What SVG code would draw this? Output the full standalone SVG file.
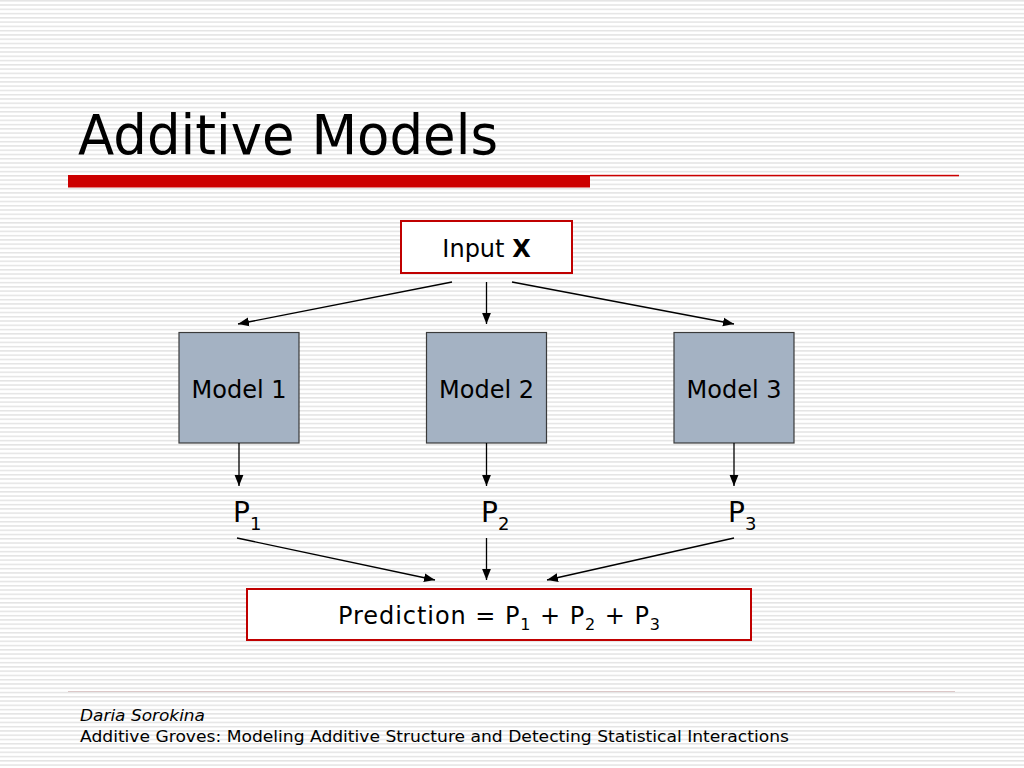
<svg xmlns="http://www.w3.org/2000/svg" width="1024" height="768" viewBox="0 0 1024 768">
<defs>
<pattern id="stripes" x="0" y="0" width="8" height="4.27" patternUnits="userSpaceOnUse">
<rect x="0" y="0" width="8" height="1.5" fill="#e4e4e4"/>
</pattern>
<marker id="arr" viewBox="0 0 10 10" refX="10" refY="5" markerWidth="11" markerHeight="11" markerUnits="userSpaceOnUse" orient="auto">
<path d="M0,1 L10,5 L0,9 Z" fill="#000"/>
</marker>
</defs>
<style>
.t{font-family:"DejaVu Sans","Liberation Sans",sans-serif;fill:#000}
.model{fill:#a4b2c3;stroke:#3a3a3a;stroke-width:1.2}
.redbox{fill:#fff;stroke:#c00000;stroke-width:2}
.conn line{stroke:#000;stroke-width:1.3;marker-end:url(#arr)}
</style>
<rect width="1024" height="768" fill="#fff"/>
<rect width="1024" height="768" fill="url(#stripes)"/>

<g id="title">
<text class="t" x="78" y="154" font-size="56" textLength="420" lengthAdjust="spacingAndGlyphs">Additive Models</text>
<rect x="68" y="175" width="522" height="12.5" fill="#cc0000"/>
<rect x="590" y="174.8" width="369" height="1.5" fill="#cc0000"/>
</g>

<g id="input">
<rect class="redbox" x="401" y="221" width="171" height="52"/>
<text class="t" x="486.5" y="257" font-size="24" text-anchor="middle">Input <tspan font-weight="bold">X</tspan></text>
</g>

<g id="model1">
<rect class="model" x="179" y="332.5" width="120" height="110.5"/>
<text class="t" x="239" y="398" font-size="24" text-anchor="middle">Model 1</text>
</g>
<g id="model2">
<rect class="model" x="426.5" y="332.5" width="120" height="110.5"/>
<text class="t" x="486.5" y="398" font-size="24" text-anchor="middle">Model 2</text>
</g>
<g id="model3">
<rect class="model" x="674" y="332.5" width="120" height="110.5"/>
<text class="t" x="734" y="398" font-size="24" text-anchor="middle">Model 3</text>
</g>

<g id="p1">
<text class="t" x="233" y="522" font-size="28">P<tspan font-size="18" dy="8">1</tspan></text>
</g>
<g id="p2">
<text class="t" x="481" y="522" font-size="28">P<tspan font-size="18" dy="8">2</tspan></text>
</g>
<g id="p3">
<text class="t" x="728" y="522" font-size="28">P<tspan font-size="18" dy="8">3</tspan></text>
</g>

<g id="prediction">
<rect class="redbox" x="247" y="589" width="504" height="51"/>
<text class="t" x="338" y="624" font-size="24" textLength="322" lengthAdjust="spacing">Prediction = P<tspan font-size="16" dy="6">1</tspan><tspan dy="-6"> + P</tspan><tspan font-size="16" dy="6">2</tspan><tspan dy="-6"> + P</tspan><tspan font-size="16" dy="6">3</tspan></text>
</g>

<g id="connectors" class="conn">
<line x1="452" y1="282" x2="238" y2="324"/>
<line x1="486.5" y1="282" x2="486.5" y2="324"/>
<line x1="512" y1="282" x2="734" y2="324"/>
<line x1="239" y1="443" x2="239" y2="486"/>
<line x1="486.5" y1="443" x2="486.5" y2="486"/>
<line x1="734" y1="443" x2="734" y2="486"/>
<line x1="237" y1="538" x2="435" y2="580"/>
<line x1="486.5" y1="538" x2="486.5" y2="580"/>
<line x1="734" y1="538" x2="547" y2="580"/>
</g>

<g id="footer">
<line x1="68" y1="691.5" x2="955" y2="691.5" stroke="#dcc8c8" stroke-width="1"/>
<text class="t" x="80" y="721" font-size="16" font-style="italic" textLength="125" lengthAdjust="spacingAndGlyphs">Daria Sorokina</text>
<text class="t" x="80" y="742" font-size="15.5" textLength="709" lengthAdjust="spacingAndGlyphs">Additive Groves: Modeling Additive Structure and Detecting Statistical Interactions</text>
</g>
</svg>
